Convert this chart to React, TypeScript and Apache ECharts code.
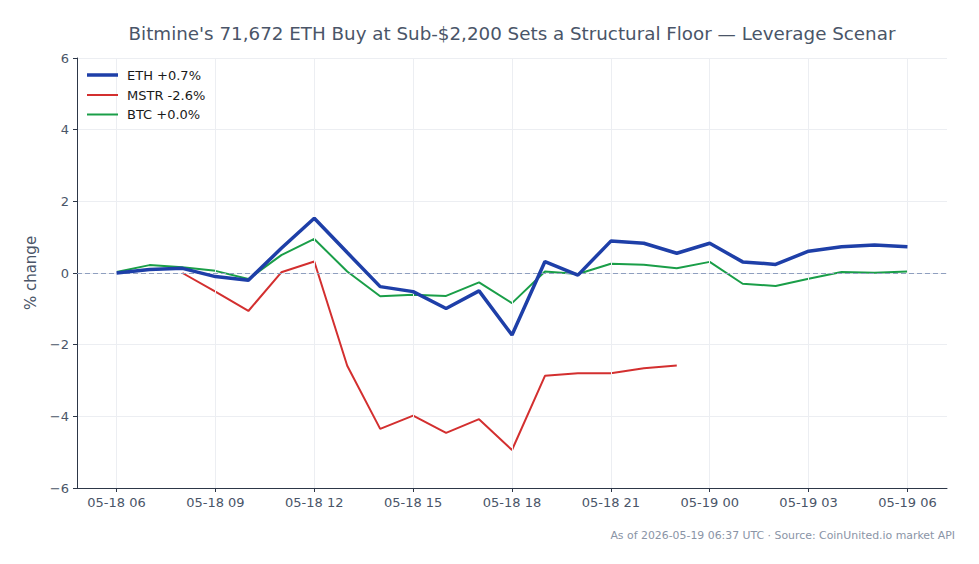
import React, { useEffect, useRef } from "react";
import * as echarts from "echarts";

const TITLE = "Bitmine's 71,672 ETH Buy at Sub-$2,200 Sets a Structural Floor — Leverage Scenar";
const FOOTER = "As of 2026-05-19 06:37 UTC · Source: CoinUnited.io market API";

// hours since 2026-05-18 06:00 UTC
const hours = [0, 1, 2, 3, 4, 5, 6, 7, 8, 9, 10, 11, 12, 13, 14, 15, 16, 17, 18, 19, 20, 21, 22, 23, 24];
const ethValues = [0, 0.1, 0.13, -0.1, -0.2, 0.69, 1.53, 0.57, -0.38, -0.52, -0.99, -0.5, -1.73, 0.32, -0.06, 0.89, 0.83, 0.55, 0.83, 0.31, 0.24, 0.61, 0.73, 0.78, 0.73];
const mstrValues = [null, null, 0, -0.52, -1.06, 0.02, 0.32, -2.59, -4.35, -3.98, -4.46, -4.08, -4.94, -2.87, -2.8, -2.8, -2.66, -2.58, null, null, null, null, null, null, null];
const btcValues = [0.03, 0.22, 0.16, 0.06, -0.17, 0.5, 0.95, 0.04, -0.65, -0.61, -0.64, -0.26, -0.84, 0.04, -0.03, 0.26, 0.23, 0.13, 0.31, -0.3, -0.36, -0.16, 0.03, 0.01, 0.04];

const tickHours = [0, 3, 6, 9, 12, 15, 18, 21, 24];
const tickLabels = ["05-18 06", "05-18 09", "05-18 12", "05-18 15", "05-18 18", "05-18 21", "05-19 00", "05-19 03", "05-19 06"];

const seriesNames = ["ETH +0.7%", "MSTR -2.6%", "BTC +0.0%"];
const seriesColors = ["#1e3fa8", "#d32f2f", "#1a9e48"];
const seriesWidths = [3.5, 2, 2];
const FONT = "DejaVu Sans";

function pairs(vals: (number | null)[]) {
  return vals.map((v, i) => [hours[i], v]);
}

export default function App() {
  const ref = useRef<HTMLDivElement>(null);
  useEffect(() => {
    if (!ref.current) return;
    const chart = echarts.init(ref.current, null, { renderer: "svg" });
    const spine = "#2d3748";
    const tickColor = "#4a5568";
    const gridColor = "#eceef2";

    const legendRowY = [75, 95, 114.5];
    const legendGraphics: any[] = [];
    seriesNames.forEach((n, i) => {
      legendGraphics.push({
        type: "line",
        shape: { x1: 87, y1: legendRowY[i], x2: 118, y2: legendRowY[i] },
        style: { stroke: seriesColors[i], lineWidth: seriesWidths[i] },
        z: 100,
      });
      legendGraphics.push({
        type: "text",
        x: 127,
        y: legendRowY[i],
        style: {
          text: n,
          fontFamily: FONT,
          fontSize: 13,
          fill: "#1a1a1a",
          textAlign: "left",
          textVerticalAlign: "middle",
        },
        z: 100,
      });
    });

    chart.setOption({
      animation: false,
      backgroundColor: "#ffffff",
      textStyle: { fontFamily: FONT },
      grid: { left: 77, right: 32, top: 58, bottom: 76, containLabel: false },
      graphic: [
        {
          type: "text",
          x: 512,
          y: 33,
          style: {
            text: TITLE,
            fontFamily: FONT,
            fontSize: 18.3,
            fill: "#4a5568",
            textAlign: "center",
            textVerticalAlign: "middle",
          },
        },
        {
          type: "text",
          x: 955,
          y: 535,
          style: {
            text: FOOTER,
            fontFamily: FONT,
            fontSize: 10.9,
            fill: "#8a94a6",
            textAlign: "right",
            textVerticalAlign: "middle",
          },
        },
        ...legendGraphics,
      ],
      xAxis: {
        type: "value",
        min: -1.2,
        max: 25.2,
        axisLine: { show: true, onZero: false, lineStyle: { color: spine, width: 1 } },
        axisTick: { show: true, length: 4, customValues: tickHours, lineStyle: { color: spine } },
        axisLabel: {
          customValues: tickHours,
          fontFamily: FONT,
          fontSize: 13,
          color: tickColor,
          margin: 8,
          formatter: (v: number) => {
            const i = tickHours.indexOf(Math.round(v));
            return i >= 0 ? tickLabels[i] : "";
          },
        },
        splitLine: { show: false },
      },
      yAxis: {
        type: "value",
        min: -6,
        max: 6,
        interval: 2,
        name: "% change",
        nameLocation: "middle",
        nameGap: 38,
        nameTextStyle: { fontFamily: FONT, fontSize: 15, color: tickColor },
        axisLine: { show: true, onZero: false, lineStyle: { color: spine, width: 1 } },
        axisTick: { show: true, length: 4, lineStyle: { color: spine } },
        axisLabel: {
          fontFamily: FONT,
          fontSize: 13,
          color: tickColor,
          margin: 8,
          formatter: (v: number) => (v < 0 ? "\u2212" + Math.abs(v) : String(v)),
        },
        splitLine: { show: true, lineStyle: { color: gridColor, width: 1 } },
      },
      series: [
        {
          name: "grid-x",
          type: "line",
          data: [],
          silent: true,
          markLine: {
            silent: true,
            symbol: "none",
            label: { show: false },
            lineStyle: { color: gridColor, width: 1, type: "solid" },
            data: tickHours.map((h) => ({ xAxis: h })),
          },
        },
        {
          name: "zero",
          type: "line",
          data: [],
          silent: true,
          markLine: {
            silent: true,
            symbol: "none",
            label: { show: false },
            lineStyle: { color: "#8f9fbf", width: 1, type: [5, 3] },
            data: [{ yAxis: 0 }],
          },
        },
        ...[ethValues, mstrValues, btcValues].map((vals, i) => ({
          name: seriesNames[i],
          type: "line",
          data: pairs(vals),
          showSymbol: false,
          symbol: "none",
          color: seriesColors[i],
          lineStyle: { width: seriesWidths[i], color: seriesColors[i] },
          z: i === 0 ? 5 : 4,
        })),
      ],
    });
    return () => chart.dispose();
  }, []);
  return <div ref={ref} style={{ width: 979, height: 564, position: "absolute", left: 0, top: 0 }} />;
}
